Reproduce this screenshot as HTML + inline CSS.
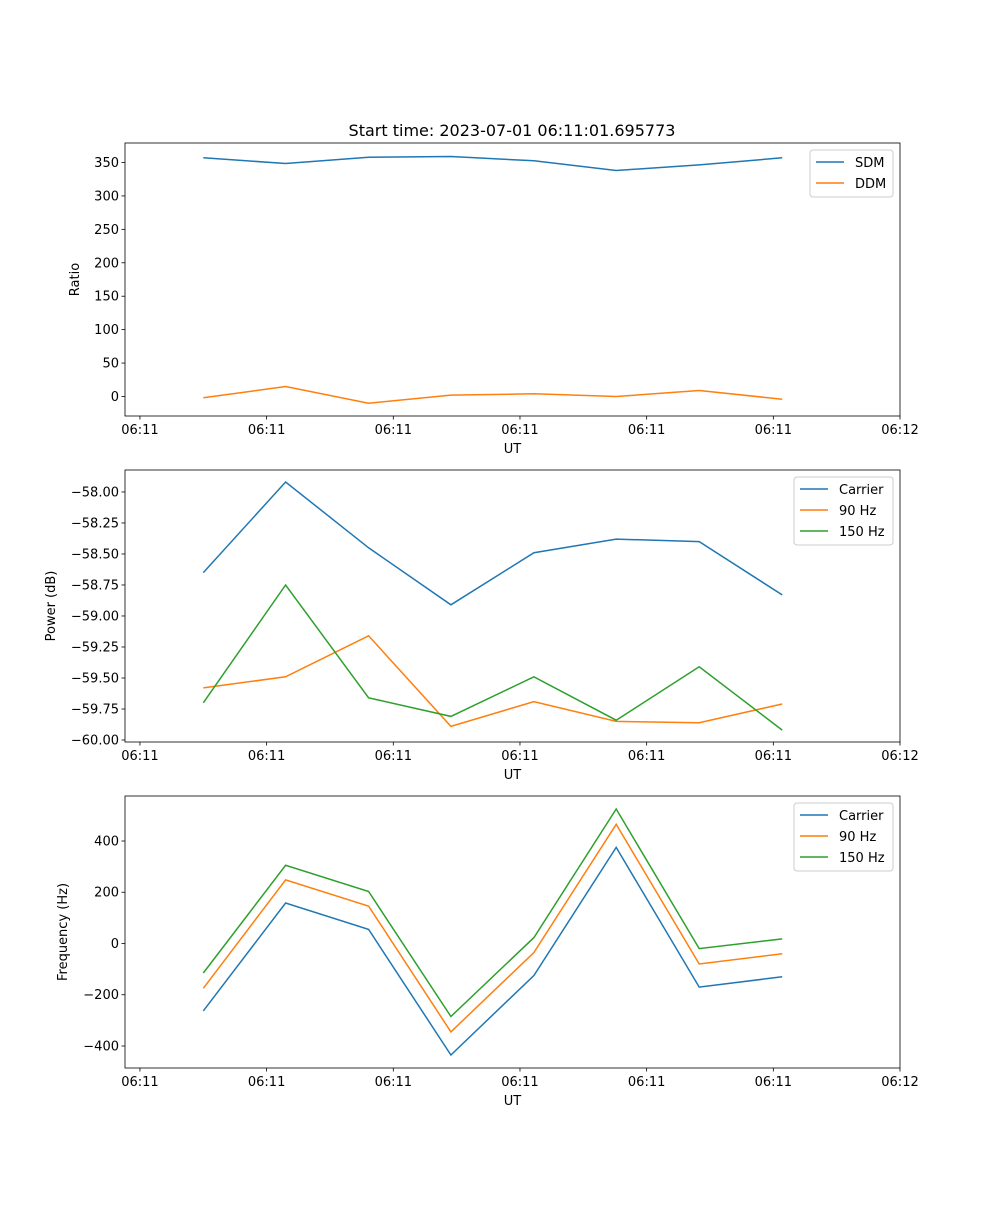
<!DOCTYPE html>
<html><head><meta charset="utf-8">
<style>
body{margin:0;background:#fff;}
svg text{font-family:"DejaVu Sans","Liberation Sans",sans-serif;fill:#000;}
</style></head>
<body>
<svg id="chart" width="1000" height="1200" xmlns="http://www.w3.org/2000/svg"></svg>
<script>
const times = [5.0, 11.5, 18.05, 24.55, 31.1, 37.6, 44.15, 50.7];
const xTickVals = [0, 10, 20, 30, 40, 50, 60];
const xTickLabels = ["06:11","06:11","06:11","06:11","06:11","06:11","06:12"];
const sdm = [357, 348.5, 358, 359, 352.5, 338, 346.5, 357];
const ddm = [-2, 15, -10, 2, 4, 0, 9, -4];
const pCarrier = [-58.65, -57.92, -58.45, -58.91, -58.49, -58.38, -58.40, -58.83];
const p90 = [-59.58, -59.49, -59.16, -59.89, -59.69, -59.85, -59.86, -59.71];
const p150 = [-59.70, -58.75, -59.66, -59.81, -59.49, -59.84, -59.41, -59.92];
const fCarrier = [-263, 158, 55, -435, -125, 375, -170, -130];
const f90 = [-175, 248, 146, -345, -35, 465, -80, -40];
const f150 = [-115, 305, 203, -285, 23, 525, -20, 18];
const ticks1 = [0,50,100,150,200,250,300,350];
const ticks2 = [-60,-59.75,-59.5,-59.25,-59,-58.75,-58.5,-58.25,-58];
const ticks3 = [-400,-200,0,200,400];

const NS="http://www.w3.org/2000/svg";
const svg=document.getElementById('chart');
function mk(tag,attrs,parent){const e=document.createElementNS(NS,tag);for(const k in attrs)e.setAttribute(k,attrs[k]);(parent||svg).appendChild(e);return e;}
const X0=125,X1=900,xmin=-1.18,xmax=60;
function xs(v){return X0+(v-xmin)/(xmax-xmin)*(X1-X0);}
const C={blue:'#1f77b4',orange:'#ff7f0e',green:'#2ca02c'};

function panel(name,top,bot,ymin,ymax,yticks,fmt,ylabel,series,legend){
  const g=mk('g',{});
  
  
  const ys=v=>bot-(v-ymin)/(ymax-ymin)*(bot-top);
  mk('defs',{},g);
  const cp=mk('clipPath',{id:'c'+name},g);mk('rect',{x:X0,y:top,width:X1-X0,height:bot-top},cp);
  series.forEach(s=>{
    const p=mk('polyline',{points:s.v.map((v,i)=>xs(times[i]).toFixed(1)+','+ys(v).toFixed(1)).join(' '),fill:'none',stroke:s.c,'stroke-width':1.5,'clip-path':'url(#c'+name+')'},g);
    
    
  });
  mk('rect',{x:X0,y:top,width:X1-X0,height:bot-top,fill:'none',stroke:'#000','stroke-width':0.8},g);
  xTickVals.forEach((t,i)=>{const x=xs(t);mk('line',{x1:x,x2:x,y1:bot,y2:bot+3.5,stroke:'#000','stroke-width':0.8},g);
    const tx=mk('text',{x:x,y:bot+18,'font-size':13,'text-anchor':'middle'},g);tx.textContent=xTickLabels[i];
    });
  yticks.forEach(t=>{const y=ys(t);mk('line',{x1:X0-3.5,x2:X0,y1:y,y2:y,stroke:'#000','stroke-width':0.8},g);
    const tx=mk('text',{x:X0-6,y:y+4.5,'font-size':13,'text-anchor':'end'},g);tx.textContent=fmt(t);
    });
  const xl=mk('text',{x:(X0+X1)/2,y:bot+37,'font-size':13,'text-anchor':'middle'},g);xl.textContent='UT';
  
  const lx=legend.x, ly=top+7, lw=X1-7-lx, lh=series.length*21+5;
  const lg=mk('g',{},g);
  mk('rect',{x:lx,y:ly,width:lw,height:lh,rx:3,fill:'#fff',stroke:'#ccc','stroke-width':1},lg);
  series.forEach((s,i)=>{const yy=ly+12+i*21;
    mk('line',{x1:lx+6,x2:lx+34,y1:yy,y2:yy,stroke:s.c,'stroke-width':1.5},lg);
    const t=mk('text',{x:lx+45,y:yy+5,'font-size':13},lg);t.textContent=s.label;
    });
  const yl=mk('text',{x:0,y:0,'font-size':13,'text-anchor':'middle',transform:`translate(${legend.yl},${(top+bot)/2}) rotate(-90)`},g);yl.textContent=ylabel;
  
}
const title=mk('text',{x:512,y:136,'font-size':16,'text-anchor':'middle'});title.textContent='Start time: 2023-07-01 06:11:01.695773';

panel('ratio-panel',143,416,-29.2,379.2,ticks1,v=>String(v),'Ratio',
  [{v:sdm,c:C.blue,n:'sdm',label:'SDM'},{v:ddm,c:C.orange,n:'ddm',label:'DDM'}],{x:810,yl:79});
panel('power-panel',470,742,-60.016,-57.823,ticks2,v=>'\u2212'+Math.abs(v).toFixed(2),'Power (dB)',
  [{v:pCarrier,c:C.blue,n:'carrier',label:'Carrier'},{v:p90,c:C.orange,n:'hz90',label:'90 Hz'},{v:p150,c:C.green,n:'hz150',label:'150 Hz'}],{x:794,yl:55});
panel('frequency-panel',796,1068,-485.9,575.6,ticks3,v=>v<0?'\u2212'+Math.abs(v):String(v),'Frequency (Hz)',
  [{v:fCarrier,c:C.blue,n:'carrier',label:'Carrier'},{v:f90,c:C.orange,n:'hz90',label:'90 Hz'},{v:f150,c:C.green,n:'hz150',label:'150 Hz'}],{x:794,yl:67});
</script>
</body></html>
